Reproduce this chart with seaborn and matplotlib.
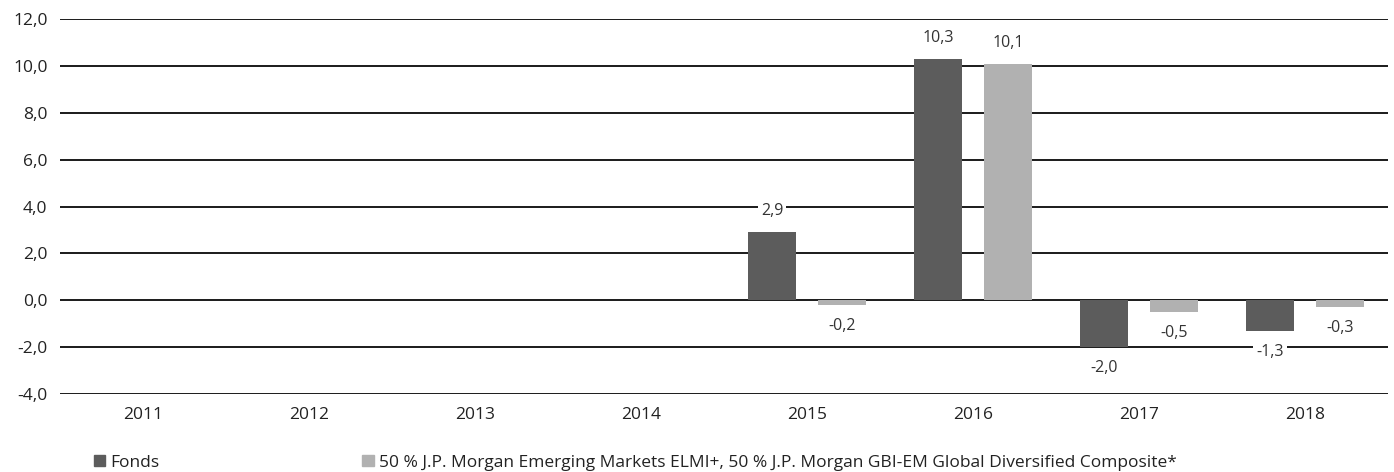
import numpy as np
import pandas as pd
import matplotlib
matplotlib.use("Agg")
import matplotlib.pyplot as plt
from matplotlib.patches import Patch
import seaborn as sns

years = ["2011", "2012", "2013", "2014", "2015", "2016", "2017", "2018"]
fonds = [np.nan, np.nan, np.nan, np.nan, 2.9, 10.3, -2.0, -1.3]
benchmark = [np.nan, np.nan, np.nan, np.nan, -0.2, 10.1, -0.5, -0.3]
series_names = ["Fonds",
                "50 % J.P. Morgan Emerging Markets ELMI+, 50 % J.P. Morgan GBI-EM Global Diversified Composite*"]
colors = ["#5c5c5c", "#b1b1b1"]
yticks = [-4, -2, 0, 2, 4, 6, 8, 10, 12]

sns.set_style("white")
plt.rcParams["font.family"] = ["Open Sans", "DejaVu Sans"]

df = pd.DataFrame({
    "year": years * 2,
    "value": fonds + benchmark,
    "series": [series_names[0]] * len(years) + [series_names[1]] * len(years),
})

fig = plt.figure(figsize=(13.94, 4.72), dpi=100)
ax = fig.add_axes([0.043, 0.165, 0.9527, 0.7947])

# grid lines behind bars
for t in yticks:
    ax.axhline(t, color="#1a1a1a", lw=1.4, zorder=0)

sns.barplot(data=df, x="year", y="value", hue="series", order=years,
            hue_order=series_names, palette=colors, width=0.84, gap=0.31,
            saturation=1, legend=False, linewidth=0, ax=ax, zorder=2)

ax.set_ylim(-4, 12)
ax.set_xlim(-0.5, len(years) - 0.5)
ax.set_yticks(yticks)
ax.set_yticklabels([f"{t:.1f}".replace(".", ",") for t in yticks], fontsize=12.5, color="#222222")
ax.tick_params(axis="x", labelsize=12.5, colors="#222222", pad=9, length=0)
ax.tick_params(axis="y", length=0, pad=9)
ax.set_xlabel("")
ax.set_ylabel("")
for s in ax.spines.values():
    s.set_visible(False)

for p in ax.patches:
    h = p.get_height()
    if np.isnan(h) or p.get_width() == 0:
        continue
    x = p.get_x() + p.get_width() / 2
    off = 21 if h >= 0 else -21
    ax.annotate(f"{h:.1f}".replace(".", ","), (x, h), xytext=(0, off),
                textcoords="offset pixels",
                ha="center", va="center", fontsize=11.5, color="#333333",
                bbox=dict(boxstyle="square,pad=0.2", fc="white", ec="none"), zorder=3)

handles = [Patch(color=c, label=n) for c, n in zip(colors, series_names)]
fig.legend(handles=handles, loc="lower left", bbox_to_anchor=(0.056, -0.03), ncol=2,
           frameon=False, fontsize=12.5, handlelength=0.65, handleheight=0.65,
           handletextpad=0.3, columnspacing=11.7, labelcolor="#222222")

fig.savefig("out.png", dpi=100)
